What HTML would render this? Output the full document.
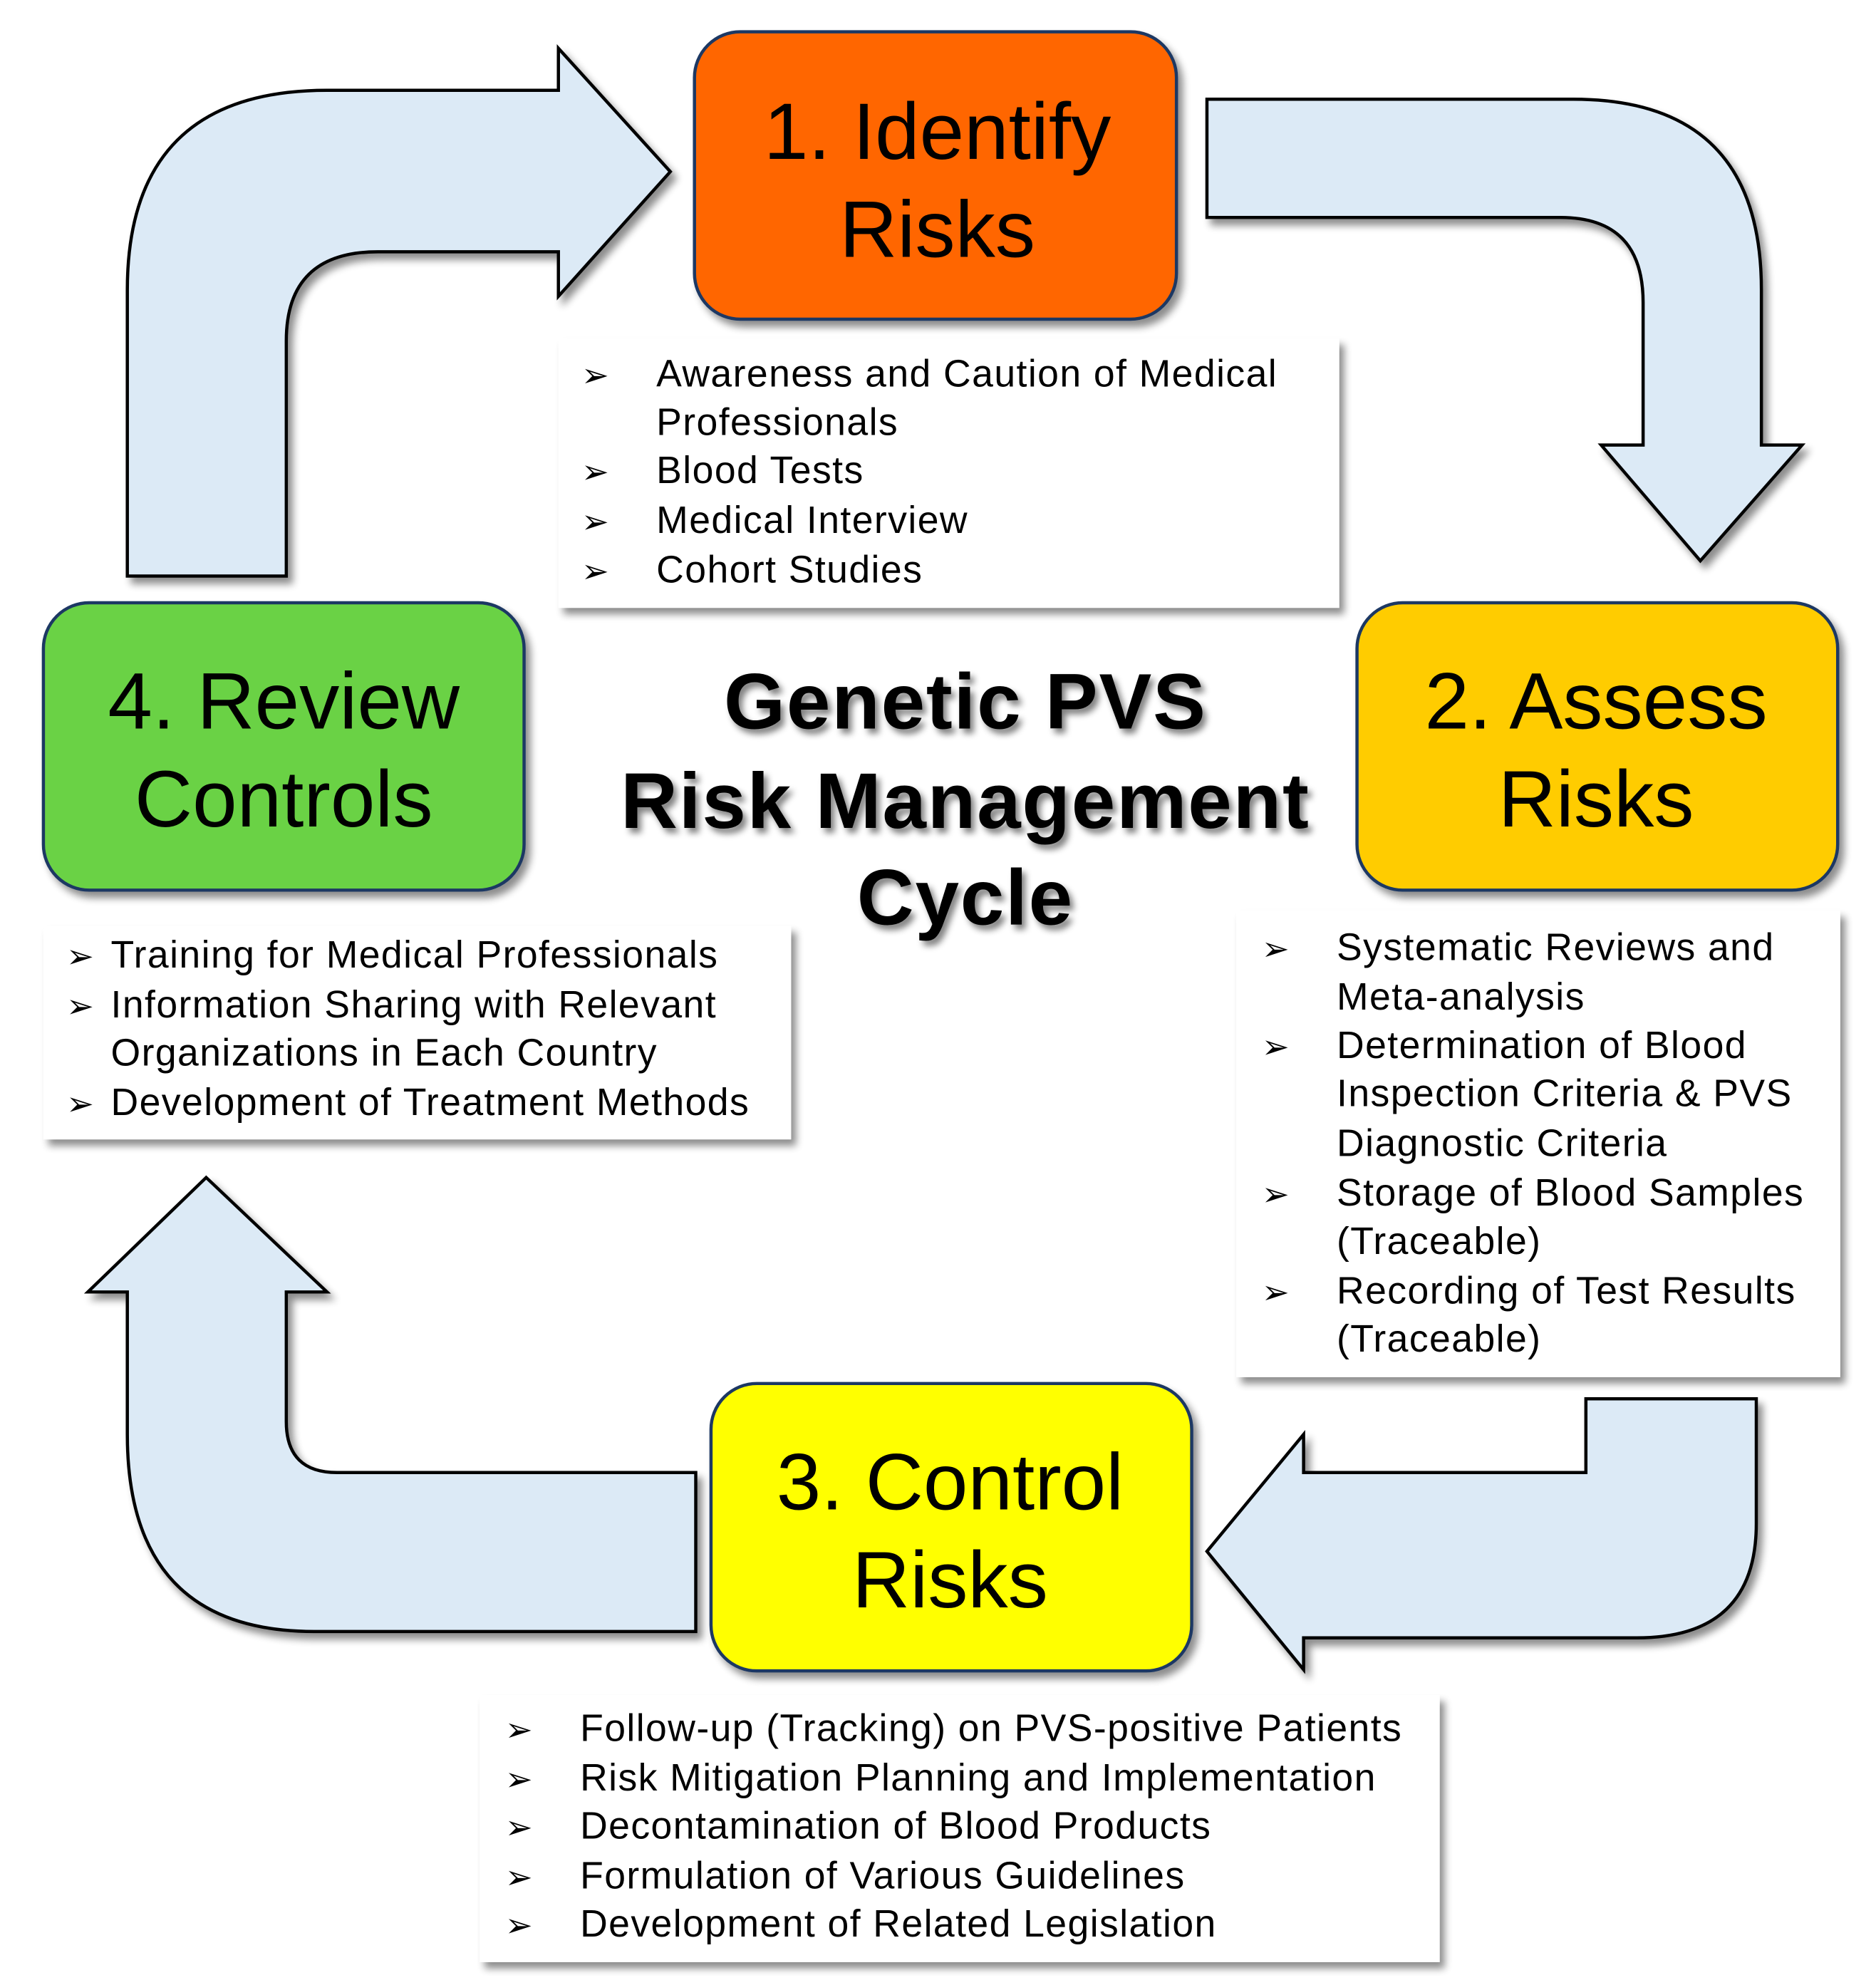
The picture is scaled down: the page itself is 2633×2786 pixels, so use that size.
<!DOCTYPE html>
<html><head><meta charset="utf-8"><style>
html,body{margin:0;padding:0;background:#fff;}
svg{display:block;}
text{font-family:"Liberation Sans",sans-serif;fill:#000;}
.b{font-size:63px;text-anchor:middle;}
.t{font-size:30px;letter-spacing:0.8px;}
.bl{font-size:26px;}
.ti{font-size:62px;font-weight:bold;text-anchor:middle;letter-spacing:1px;}
</style></head><body>
<svg width="2633" height="2786" viewBox="0 0 1475 1561" xmlns="http://www.w3.org/2000/svg">
<defs>
<filter id="sh" x="-10%" y="-10%" width="130%" height="130%">
<feGaussianBlur in="SourceAlpha" stdDeviation="3"/>
<feOffset dx="4" dy="5" result="o"/>
<feComponentTransfer><feFuncA type="linear" slope="0.45"/></feComponentTransfer>
<feMerge><feMergeNode/><feMergeNode in="SourceGraphic"/></feMerge>
</filter>
<filter id="ts" x="-10%" y="-20%" width="120%" height="150%">
<feGaussianBlur in="SourceAlpha" stdDeviation="2.5"/>
<feOffset dx="3" dy="4"/>
<feComponentTransfer><feFuncA type="linear" slope="0.5"/></feComponentTransfer>
<feMerge><feMergeNode/><feMergeNode in="SourceGraphic"/></feMerge>
</filter>
</defs>
<g transform="translate(-3,-2)">
<g fill="#DCEAF6" stroke="#000" stroke-width="2.5" stroke-linejoin="miter" filter="url(#sh)">
<path d="M103,455 L103,230 Q103,73 260,73 L442,73 L442,40 L530,137 L442,235 L442,200 L300,200 Q228,200 228,270 L228,455 Z"/>
<path d="M952,80 L1240,80 Q1388,80 1388,230 L1388,352 L1420,352 L1340,443 L1262,352 L1295,352 L1295,240 Q1295,173 1230,173 L952,173 Z"/>
<path d="M1250,1102 L1384,1102 L1384,1200 Q1384,1290 1290,1290 L1028,1290 L1028,1315 L952,1222 L1028,1130 L1028,1160 L1250,1160 Z"/>
<path d="M550,1285 L250,1285 Q103,1285 103,1130 L103,1018 L72,1018 L165,928 L260,1018 L228,1018 L228,1120 Q228,1160 268,1160 L550,1160 Z"/>
</g>
<g stroke="#1F3864" stroke-width="2.5" filter="url(#sh)">
<rect x="549" y="27" width="379" height="226" rx="36" fill="#FF6600"/>
<rect x="1070" y="476" width="378" height="226" rx="36" fill="#FFCC00"/>
<rect x="562" y="1090" width="378" height="226" rx="36" fill="#FFFF00"/>
<rect x="37" y="476" width="378" height="226" rx="36" fill="#6BD245"/>
</g>
<text class="b" x="740" y="127">1. Identify</text>
<text class="b" x="740" y="204">Risks</text>
<text class="b" x="1258" y="575">2. Assess</text>
<text class="b" x="1258" y="652">Risks</text>
<text class="b" x="750" y="1189">3. Control</text>
<text class="b" x="750" y="1266">Risks</text>
<text class="b" x="226" y="575">4. Review</text>
<text class="b" x="226" y="652">Controls</text>
<g filter="url(#sh)" fill="#fff">
<rect x="442" y="268" width="614" height="212"/>
<rect x="37" y="730" width="588" height="168"/>
<rect x="975" y="718" width="475" height="367"/>
<rect x="380" y="1335" width="755" height="210"/>
</g>
<g filter="url(#ts)">
<text class="ti" x="762" y="575">Genetic PVS</text>
<text class="ti" x="762" y="653">Risk Management</text>
<text class="ti" x="762" y="729">Cycle</text>
</g>
<g>
<text class="bl" x="460" y="306">➢</text><text class="t" x="519" y="306">Awareness and Caution of Medical</text>
<text class="t" x="519" y="344">Professionals</text>
<text class="bl" x="460" y="382">➢</text><text class="t" x="519" y="382">Blood Tests</text>
<text class="bl" x="460" y="421">➢</text><text class="t" x="519" y="421">Medical Interview</text>
<text class="bl" x="460" y="460">➢</text><text class="t" x="519" y="460">Cohort Studies</text>

<text class="bl" x="55" y="763">➢</text><text class="t" x="90" y="763">Training for Medical Professionals</text>
<text class="bl" x="55" y="802">➢</text><text class="t" x="90" y="802">Information Sharing with Relevant</text>
<text class="t" x="90" y="840">Organizations in Each Country</text>
<text class="bl" x="55" y="879">➢</text><text class="t" x="90" y="879">Development of Treatment Methods</text>

<text class="bl" x="995" y="757">➢</text><text class="t" x="1054" y="757">Systematic Reviews and</text>
<text class="t" x="1054" y="796">Meta-analysis</text>
<text class="bl" x="995" y="834">➢</text><text class="t" x="1054" y="834">Determination of Blood</text>
<text class="t" x="1054" y="872">Inspection Criteria &amp; PVS</text>
<text class="t" x="1054" y="911">Diagnostic Criteria</text>
<text class="bl" x="995" y="950">➢</text><text class="t" x="1054" y="950">Storage of Blood Samples</text>
<text class="t" x="1054" y="988">(Traceable)</text>
<text class="bl" x="995" y="1027">➢</text><text class="t" x="1054" y="1027">Recording of Test Results</text>
<text class="t" x="1054" y="1065">(Traceable)</text>

<text class="bl" x="400" y="1371">➢</text><text class="t" x="459" y="1371">Follow-up (Tracking) on PVS-positive Patients</text>
<text class="bl" x="400" y="1410">➢</text><text class="t" x="459" y="1410">Risk Mitigation Planning and Implementation</text>
<text class="bl" x="400" y="1448">➢</text><text class="t" x="459" y="1448">Decontamination of Blood Products</text>
<text class="bl" x="400" y="1487">➢</text><text class="t" x="459" y="1487">Formulation of Various Guidelines</text>
<text class="bl" x="400" y="1525">➢</text><text class="t" x="459" y="1525">Development of Related Legislation</text>
</g>
</g>
</svg>
</body></html>
